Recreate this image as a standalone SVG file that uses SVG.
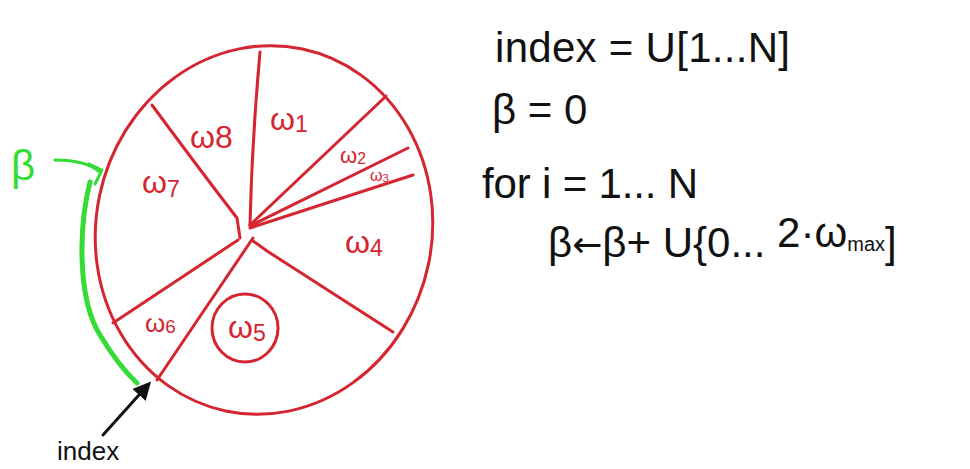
<svg xmlns="http://www.w3.org/2000/svg" width="970" height="469" viewBox="0 0 970 469">
<style>
.r{fill:none;stroke:#d42530;stroke-width:3;stroke-linecap:round;stroke-linejoin:round}
.g{fill:none;stroke:#35dc35;stroke-linecap:round;stroke-linejoin:round}
.k{fill:none;stroke:#111;stroke-width:3;stroke-linecap:round}
.lab{font-family:"Liberation Sans",Arial,sans-serif;fill:#d42530}
.txt{font-family:"Liberation Sans",Arial,sans-serif;fill:#111}
.sub{font-size:0.72em}
</style>
<defs>
<marker id="ah" markerWidth="6" markerHeight="6" refX="4" refY="3" orient="auto" markerUnits="strokeWidth">
<path d="M0,0 L6,3 L0,6 Z" fill="#111"/>
</marker>
</defs>
<rect width="970" height="469" fill="#fff"/>
<g id="wheel">
<ellipse class="r" cx="264" cy="230" rx="168" ry="185" transform="rotate(12 264 230)"/>
</g>
<g id="connectors">
<path class="r" d="M260,52 Q252,140 250,225"/>
<path class="r" d="M152,105 Q200,170 237,218 L240,238"/>
<path class="r" d="M238,240 L113,323"/>
<path class="r" d="M386,96 L383,99 L250,225"/>
<path class="r" d="M408,148 L250,226"/>
<path class="r" d="M413,175 L250,228"/>
<path class="r" d="M253,238 L157,380"/>
<path class="r" d="M253,241 L267,251 L393,332"/>
<path class="g" stroke-width="5" d="M90,182 C78,230 78,300 100,335 C112,355 125,372 137,383"/>
<path class="g" stroke-width="3" d="M55,160 C70,160 88,162 100,172 M89,164 L102,170 L95,184"/>
<path class="k" marker-end="url(#ah)" d="M103,435 L147,386"/>
</g>
<g id="w8"><text class="lab" x="190" y="148" font-size="32">ω<tspan>8</tspan></text></g>
<g id="w1"><text class="lab" x="270" y="130" font-size="32">ω<tspan class="sub" dy="2">1</tspan></text></g>
<g id="w2"><text class="lab" x="340" y="163" font-size="22">ω<tspan class="sub" dy="1">2</tspan></text></g>
<g id="w3"><text class="lab" x="370" y="181" font-size="16">ω<tspan class="sub" dy="1">3</tspan></text></g>
<g id="w7"><text class="lab" x="142" y="193" font-size="32">ω<tspan class="sub" dy="4">7</tspan></text></g>
<g id="w4"><text class="lab" x="345" y="253" font-size="32">ω<tspan class="sub" dy="3">4</tspan></text></g>
<g id="w6"><text class="lab" x="145" y="332" font-size="26">ω<tspan class="sub" dy="1">6</tspan></text></g>
<g id="w5">
<ellipse class="r" cx="245" cy="328" rx="33" ry="34"/>
<text class="lab" x="228" y="338" font-size="32">ω<tspan class="sub" dy="3">5</tspan></text>
</g>
<g id="beta"><text x="11" y="180" font-size="42" font-family="Liberation Sans,Arial,sans-serif" fill="#35dc35">β</text></g>
<g id="index"><text class="txt" x="57" y="460" font-size="26">index</text></g>
<g id="code">
<text class="txt" x="495" y="62" font-size="42" textLength="295" lengthAdjust="spacing">index = U[1...N]</text>
<text class="txt" x="492" y="124" font-size="42">β = 0</text>
<text class="txt" x="482" y="198" font-size="42" textLength="216" lengthAdjust="spacing">for  i = 1... N</text>
<text class="txt" x="548" y="257" font-size="42">β<tspan font-family="DejaVu Sans,sans-serif" font-size="36">←</tspan>β+ U{0... <tspan dy="-10">2·ω</tspan><tspan font-size="20" dy="4">max</tspan><tspan dy="6">]</tspan></text>
</g>
</svg>
